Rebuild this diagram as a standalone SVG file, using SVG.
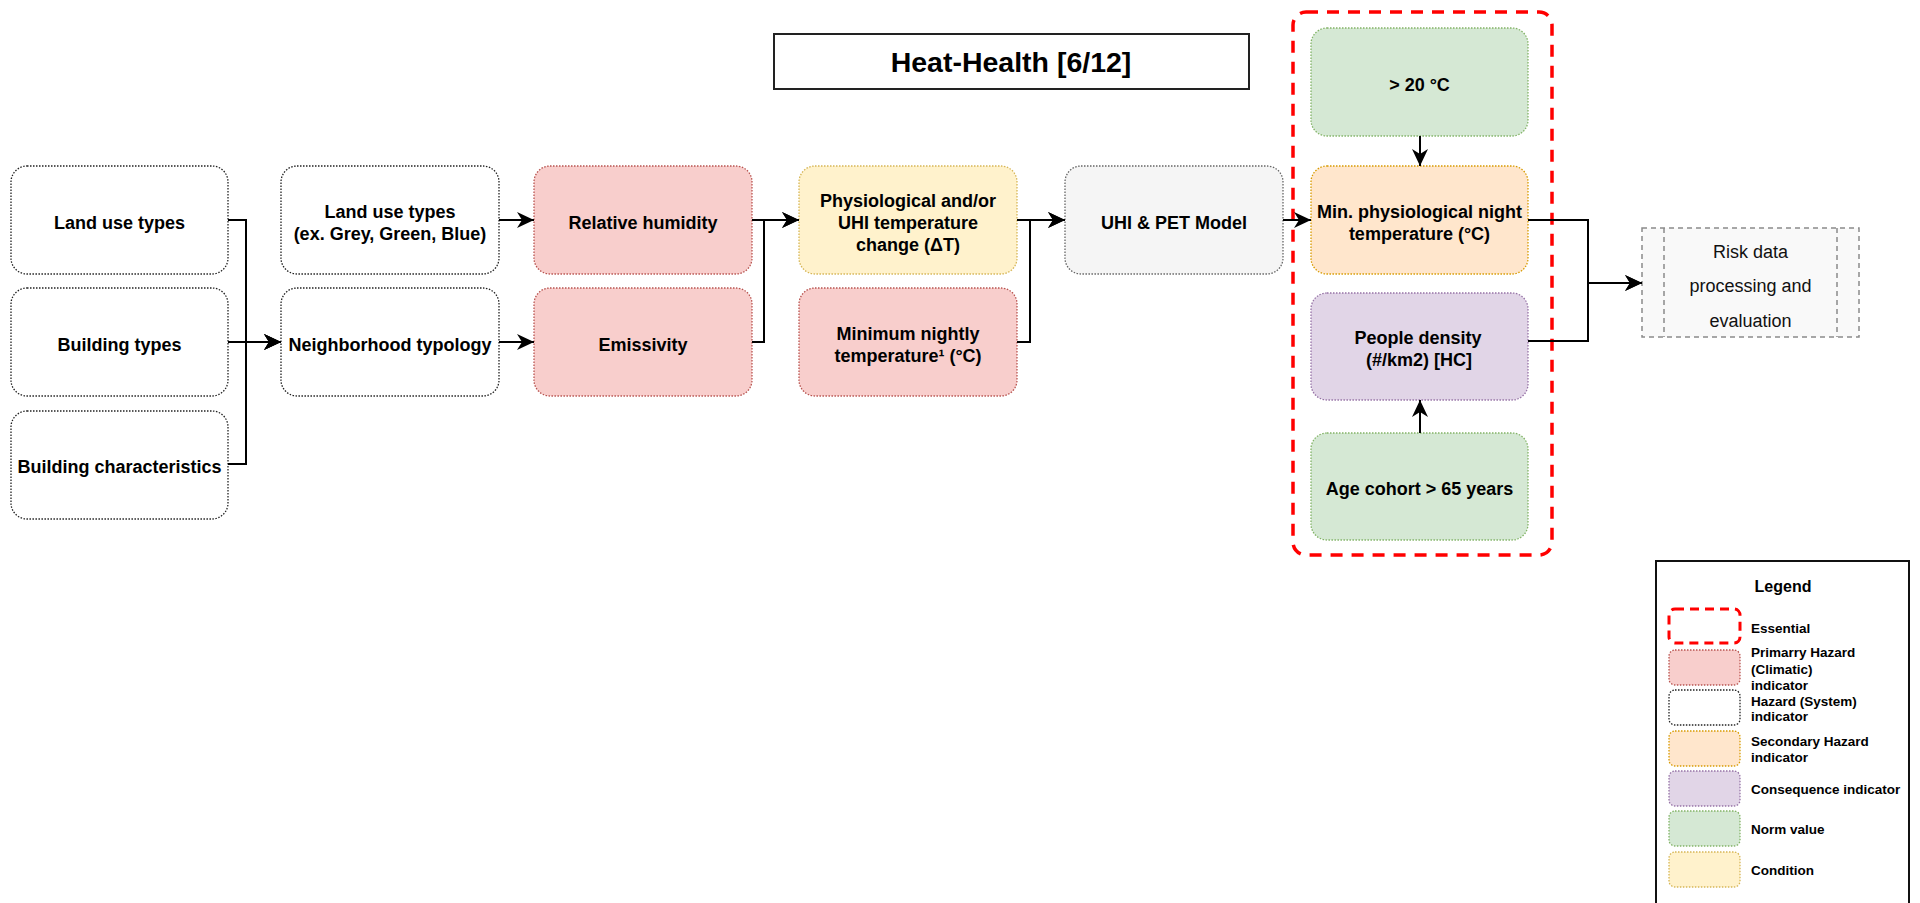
<svg xmlns="http://www.w3.org/2000/svg" width="1920" height="903" viewBox="0 0 1920 903">
  <defs>
    <marker id="arrow" markerUnits="userSpaceOnUse" markerWidth="18" markerHeight="16" refX="17" refY="8" orient="auto">
      <path d="M0,0 L17,8 L0,16 L5,8 Z" fill="#000"/>
    </marker>
    <style>
      .node { stroke-width: 1.3; stroke-dasharray: 1.5 1.5; }
      .sys { fill: #ffffff; stroke: #222; }
      .prim { fill: #f8cecc; stroke: #b85450; }
      .cond { fill: #fff2cc; stroke: #d6b656; }
      .model { fill: #f5f5f5; stroke: #666666; }
      .sec { fill: #ffe6cc; stroke: #d79b00; }
      .cons { fill: #e1d5e7; stroke: #9673a6; }
      .norm { fill: #d5e8d4; stroke: #82b366; }
      .lbl { font-family: "Liberation Sans", Arial, sans-serif; font-weight: bold; font-size: 18px; fill: #000; text-anchor: middle; }
      .edge { fill: none; stroke: #000; stroke-width: 2; }
      .leg { font-family: "Liberation Sans", Arial, sans-serif; font-weight: bold; font-size: 13.5px; fill: #000; }
    </style>
  </defs>
  <rect width="1920" height="903" fill="#ffffff"/>

  <!-- title -->
  <g id="title">
    <rect x="774" y="34" width="475" height="55" fill="#fff" stroke="#222" stroke-width="2"/>
    <text x="1011" y="72" font-family="Liberation Sans, Arial, sans-serif" font-weight="bold" font-size="28.5" text-anchor="middle">Heat-Health [6/12]</text>
  </g>

  <!-- essential group frame -->
  <g id="essential">
    <rect x="1293" y="12" width="259" height="543" rx="13" fill="none" stroke="#ff0000" stroke-width="3.5" stroke-dasharray="12 9"/>
  </g>

  <!-- input column -->
  <g id="n-landuse">
    <rect class="node sys" x="11" y="166" width="217" height="108" rx="16"/>
    <text class="lbl" x="119.5" y="229">Land use types</text>
  </g>
  <g id="n-buildtypes">
    <rect class="node sys" x="11" y="288" width="217" height="108" rx="16"/>
    <text class="lbl" x="119.5" y="351">Building types</text>
  </g>
  <g id="n-buildchar">
    <rect class="node sys" x="11" y="411" width="217" height="108" rx="16"/>
    <text class="lbl" x="119.5" y="473">Building characteristics</text>
  </g>

  <!-- second column -->
  <g id="n-landuse2">
    <rect class="node sys" x="281" y="166" width="218" height="108" rx="16"/>
    <text class="lbl" x="390" y="218">Land use types</text>
    <text class="lbl" x="390" y="240">(ex. Grey, Green, Blue)</text>
  </g>
  <g id="n-neigh">
    <rect class="node sys" x="281" y="288" width="218" height="108" rx="16"/>
    <text class="lbl" x="390" y="351">Neighborhood typology</text>
  </g>

  <!-- climatic indicators -->
  <g id="n-humidity">
    <rect class="node prim" x="534" y="166" width="218" height="108" rx="16"/>
    <text class="lbl" x="643" y="229">Relative humidity</text>
  </g>
  <g id="n-emissivity">
    <rect class="node prim" x="534" y="288" width="218" height="108" rx="16"/>
    <text class="lbl" x="643" y="351">Emissivity</text>
  </g>

  <g id="n-deltat">
    <rect class="node cond" x="799" y="166" width="218" height="108" rx="16"/>
    <text class="lbl" x="908" y="207">Physiological and/or</text>
    <text class="lbl" x="908" y="229">UHI temperature</text>
    <text class="lbl" x="908" y="251">change (ΔT)</text>
  </g>
  <g id="n-minnight">
    <rect class="node prim" x="799" y="288" width="218" height="108" rx="16"/>
    <text class="lbl" x="908" y="340">Minimum nightly</text>
    <text class="lbl" x="908" y="362">temperature¹ (°C)</text>
  </g>

  <g id="n-model">
    <rect class="node model" x="1065" y="166" width="218" height="108" rx="16"/>
    <text class="lbl" x="1174" y="229">UHI &amp; PET Model</text>
  </g>

  <!-- essential column -->
  <g id="n-norm20">
    <rect class="node norm" x="1311" y="28" width="217" height="108" rx="16"/>
    <text class="lbl" x="1419.5" y="91">&gt; 20 °C</text>
  </g>
  <g id="n-minphys">
    <rect class="node sec" x="1311" y="166" width="217" height="108" rx="16"/>
    <text class="lbl" x="1419.5" y="218">Min. physiological night</text>
    <text class="lbl" x="1419.5" y="240">temperature (°C)</text>
  </g>
  <g id="n-people">
    <rect class="node cons" x="1311" y="293" width="217" height="107" rx="16"/>
    <text class="lbl" x="1418" y="344">People density</text>
    <text class="lbl" x="1419" y="366">(#/km2) [HC]</text>
  </g>
  <g id="n-age">
    <rect class="node norm" x="1311" y="433" width="217" height="107" rx="16"/>
    <text class="lbl" x="1419.5" y="495">Age cohort &gt; 65 years</text>
  </g>

  <!-- processing step -->
  <g id="n-risk">
    <rect x="1642" y="228" width="217" height="109" fill="#f9f9f9" stroke="#8a8a8a" stroke-width="1.5" stroke-dasharray="5 4"/>
    <line x1="1664" y1="228" x2="1664" y2="337" stroke="#8a8a8a" stroke-width="1.5" stroke-dasharray="5 4"/>
    <line x1="1837" y1="228" x2="1837" y2="337" stroke="#8a8a8a" stroke-width="1.5" stroke-dasharray="5 4"/>
    <g font-family="Liberation Sans, Arial, sans-serif" font-size="18" text-anchor="middle" fill="#111">
      <text x="1750.5" y="258">Risk data</text>
      <text x="1750.5" y="292">processing and</text>
      <text x="1750.5" y="327">evaluation</text>
    </g>
  </g>

  <!-- connectors -->
  <g id="connectors">
    <path class="edge" d="M228,220 H246 V342 H281" marker-end="url(#arrow)"/>
    <path class="edge" d="M228,342 H281" marker-end="url(#arrow)"/>
    <path class="edge" d="M228,464 H246 V342 H281" marker-end="url(#arrow)"/>
    <path class="edge" d="M499,220 H534" marker-end="url(#arrow)"/>
    <path class="edge" d="M499,342 H534" marker-end="url(#arrow)"/>
    <path class="edge" d="M752,220 H799" marker-end="url(#arrow)"/>
    <path class="edge" d="M752,342 H764 V220 H799" marker-end="url(#arrow)"/>
    <path class="edge" d="M1017,220 H1065" marker-end="url(#arrow)"/>
    <path class="edge" d="M1017,342 H1030 V220 H1065" marker-end="url(#arrow)"/>
    <path class="edge" d="M1283,220 H1311" marker-end="url(#arrow)"/>
    <path class="edge" d="M1420,136 V166" marker-end="url(#arrow)"/>
    <path class="edge" d="M1420,433 V400" marker-end="url(#arrow)"/>
    <path class="edge" d="M1528,220 H1588 V283 H1642" marker-end="url(#arrow)"/>
    <path class="edge" d="M1528,341 H1588 V283 H1642" marker-end="url(#arrow)"/>
  </g>

  <!-- legend -->
  <g id="legend">
    <rect x="1656" y="561" width="253" height="360" fill="#fff" stroke="#111" stroke-width="2"/>
    <text x="1783" y="592" font-family="Liberation Sans, Arial, sans-serif" font-weight="bold" font-size="16" text-anchor="middle">Legend</text>
    <rect x="1669" y="609" width="71" height="34" rx="6" fill="none" stroke="#ff0000" stroke-width="3" stroke-dasharray="9 6"/>
    <rect class="node prim" x="1669" y="650" width="71" height="35" rx="6"/>
    <rect class="node sys" x="1669" y="690" width="71" height="35" rx="6"/>
    <rect class="node sec" x="1669" y="731" width="71" height="35" rx="6"/>
    <rect class="node cons" x="1669" y="771" width="71" height="35" rx="6"/>
    <rect class="node norm" x="1669" y="811" width="71" height="35" rx="6"/>
    <rect class="node cond" x="1669" y="852" width="71" height="35" rx="6"/>
    <text class="leg" x="1751" y="633">Essential</text>
    <text class="leg" x="1751" y="657">Primarry Hazard</text>
    <text class="leg" x="1751" y="673.5">(Climatic)</text>
    <text class="leg" x="1751" y="690">indicator</text>
    <text class="leg" x="1751" y="706">Hazard (System)</text>
    <text class="leg" x="1751" y="721">indicator</text>
    <text class="leg" x="1751" y="746">Secondary Hazard</text>
    <text class="leg" x="1751" y="762">indicator</text>
    <text class="leg" x="1751" y="794">Consequence indicator</text>
    <text class="leg" x="1751" y="834">Norm value</text>
    <text class="leg" x="1751" y="875">Condition</text>
  </g>
</svg>
